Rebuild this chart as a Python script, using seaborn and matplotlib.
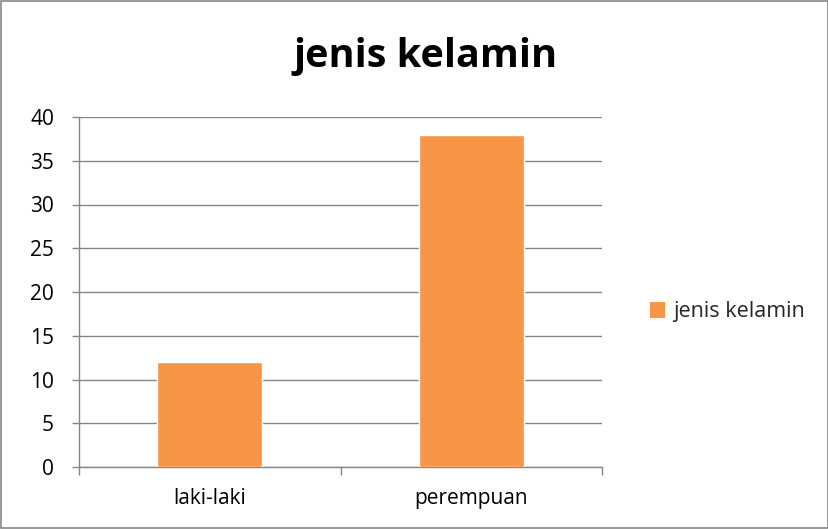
import matplotlib
matplotlib.use("Agg")
import matplotlib.pyplot as plt
import seaborn as sns
import pandas as pd
from matplotlib.patches import Patch, Rectangle

categories = ["laki-laki", "perempuan"]
values = [12, 38]
series_name = "jenis kelamin"
title = "jenis kelamin"
yticks = [0, 5, 10, 15, 20, 25, 30, 35, 40]

sns.set_theme(style="white")
plt.rcParams['font.family'] = ['Open Sans', 'DejaVu Sans']

df = pd.DataFrame({"cat": categories, "val": values})

fig = plt.figure(figsize=(8.29, 5.29), dpi=100)
ax = fig.add_axes([79/829, 1-467/529, (602-79)/829, (467-117)/529])

sns.barplot(data=df, x="cat", y="val", color="#F79646", width=0.4,
            saturation=1, ax=ax, zorder=3)

grid_c = "#868686"
ax.set_ylim(0, 40)
ax.set_xlim(-0.5, len(categories) - 0.5)
ax.set_yticks(yticks)
ax.set_yticklabels([str(v) for v in yticks], fontsize=15, color="black")
ax.yaxis.grid(True, color=grid_c, linewidth=1.0, zorder=0)
ax.set_axisbelow(True)
for s in ["top", "right"]:
    ax.spines[s].set_visible(False)
ax.spines["left"].set_color(grid_c)
ax.spines["bottom"].set_color(grid_c)
ax.spines["left"].set_linewidth(1.0)
ax.spines["bottom"].set_linewidth(1.0)
ax.tick_params(axis="y", left=True, length=5, width=1, color=grid_c, pad=13)
ax.set_xticks(range(len(categories)))
ax.set_xticklabels(categories, fontsize=15, color="black")
ax.set_xticks([i - 0.5 for i in range(len(categories) + 1)], minor=True)
ax.tick_params(axis="x", which="major", length=0, pad=15)
ax.tick_params(axis="x", which="minor", bottom=True, length=5.5, width=1, color=grid_c)
ax.set_xlabel("")
ax.set_ylabel("")

fig.text(426/829, 1-67/529, title, ha="center", va="baseline",
         fontsize=28.5, fontweight="bold", color="black")

handles = [Patch(facecolor="#F79646", edgecolor="none", label=series_name)]
fig.legend(handles=handles, loc="center left", bbox_to_anchor=(641/829, 1-312/529),
           frameon=False, fontsize=15.5, handlelength=0.7, handleheight=0.7,
           handletextpad=0.4, borderaxespad=0)

fig.patches.append(Rectangle((0.001, 0.001), 0.998, 0.997, transform=fig.transFigure,
                             fill=False, edgecolor=grid_c, linewidth=1.2))

fig.savefig("out.png", dpi=100)
